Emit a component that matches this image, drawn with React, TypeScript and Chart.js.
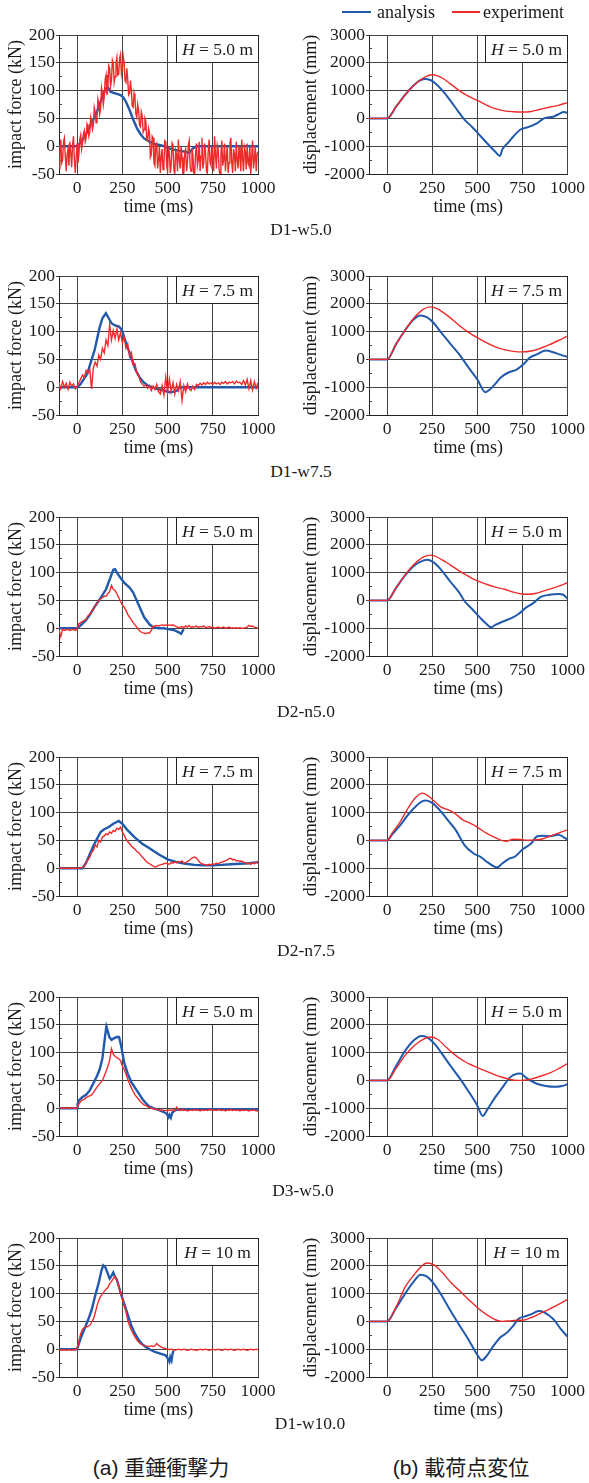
import React, { useEffect, useRef } from 'react';
import { Chart, registerables } from 'chart.js';

Chart.register(...registerables);

const SERIF = '"Liberation Serif", "Times New Roman", Times, serif';
const SANS = '"Liberation Sans", Arial, "Noto Sans CJK JP", sans-serif';
const BLUE = '#2159ad';
const RED = '#ee2b2b';
const GRID = '#444444';
const INK = '#1a1a1a';

// ---- axis ticks ----
const timeTicks = [0, 250, 500, 750, 1000];
const forceTicks = [-50, 0, 50, 100, 150, 200];
const dispTicks = [-2000, -1000, 0, 1000, 2000, 3000];
const forceMinor = [-25, 25, 75, 125, 175];
const dispMinor = [-1500, -500, 500, 1500, 2500];

// ---- sampled time grids (ms) for the measured force records ----
const t10 = [
  -100, -90, -80, -70, -60, -50, -40, -30, -20, -10, 0,
  10, 20, 30, 40, 50, 60, 70, 80, 90, 100,
  110, 120, 130, 140, 150, 160, 170, 180, 190, 200,
  210, 220, 230, 240, 250, 260, 270, 280, 290, 300,
  310, 320, 330, 340, 350, 360, 370, 380, 390, 400,
  410, 420, 430, 440, 450, 460, 470, 480, 490, 500,
  510, 520, 530, 540, 550, 560, 570, 580, 590, 600,
  610, 620, 630, 640, 650, 660, 670, 680, 690, 700,
  710, 720, 730, 740, 750, 760, 770, 780, 790, 800,
  810, 820, 830, 840, 850, 860, 870, 880, 890, 900,
  910, 920, 930, 940, 950, 960, 970, 980, 990, 1000,
];
const t5 = [
  -100, -95, -90, -85, -80, -75, -70, -65, -60, -55, -50, -45, -40, -35, -30, -25, -20, -15, -10, -5, 0,
  5, 10, 15, 20, 25, 30, 35, 40, 45, 50, 55, 60, 65, 70, 75, 80, 85, 90, 95, 100,
  105, 110, 115, 120, 125, 130, 135, 140, 145, 150, 155, 160, 165, 170, 175, 180, 185, 190, 195, 200,
  205, 210, 215, 220, 225, 230, 235, 240, 245, 250, 255, 260, 265, 270, 275, 280, 285, 290, 295, 300,
  305, 310, 315, 320, 325, 330, 335, 340, 345, 350, 355, 360, 365, 370, 375, 380, 385, 390, 395, 400,
  405, 410, 415, 420, 425, 430, 435, 440, 445, 450, 455, 460, 465, 470, 475, 480, 485, 490, 495, 500,
  505, 510, 515, 520, 525, 530, 535, 540, 545, 550, 555, 560, 565, 570, 575, 580, 585, 590, 595, 600,
  605, 610, 615, 620, 625, 630, 635, 640, 645, 650, 655, 660, 665, 670, 675, 680, 685, 690, 695, 700,
  705, 710, 715, 720, 725, 730, 735, 740, 745, 750, 755, 760, 765, 770, 775, 780, 785, 790, 795, 800,
  805, 810, 815, 820, 825, 830, 835, 840, 845, 850, 855, 860, 865, 870, 875, 880, 885, 890, 895, 900,
  905, 910, 915, 920, 925, 930, 935, 940, 945, 950, 955, 960, 965, 970, 975, 980, 985, 990, 995, 1000,
];

// ================= D1-w5.0 =================
const d1w50ForceAnalysis: [number, number][] = [
  [-100, 0], [0, 0], [10, 3], [30, 12], [50, 22], [70, 35], [90, 48], [110, 62], [130, 80], [150, 97],
  [165, 107], [175, 104], [185, 98], [200, 96], [220, 94], [240, 92], [255, 88], [270, 80], [290, 65],
  [310, 48], [330, 33], [350, 22], [370, 14], [400, 8], [430, 4], [460, 2], [480, 0], [500, -3],
  [530, -6], [560, -8], [600, -10], [620, -12], [640, -4], [660, 0], [1000, 0],
];
// sampled on t5
const d1w50ForceExperiment = [
  -40, -10, 12, -30, -25, 8, 15, -20, -45, -15, -5, -35, 8, -12, -38, 2, 18, -25, -48, -20, 5,
  -30, -15, 12, 20, -5, 5, 22, 28, 8, 15, 40, 35, 18, 25, 52, 45, 30, 38, 70, 62,
  42, 50, 85, 78, 58, 68, 105, 95, 75, 88, 120, 128, 92, 105, 145, 140, 108, 118, 155, 150,
  115, 125, 150, 160, 128, 130, 158, 165, 130, 140, 162, 150, 118, 115, 140, 120, 92, 95, 118, 100,
  72, 70, 95, 85, 58, 52, 75, 65, 38, 35, 62, 55, 25, 30, 50, 45, 12, 10, 32, 25,
  -20, -15, 18, 15, -30, -35, 2, 5, -40, -25, 0, -48, -20, -5, -42, -30, 10, 8, -35, -45,
  -5, -10, -48, -35, 5, 0, -42, -50, -8, -15, -45, 12, -25, -40, 0, -20, -50, -48, -10, -5,
  -45, -30, 2, 10, -38, -45, -5, -15, -48, -50, -12, 5, -35, -25, 8, -45, -18, 15, -40, -30,
  5, -10, -45, -48, -8, 12, -30, -35, 0, -20, -45, 18, -15, -40, 2, -5, -42, -50, -15, 10,
  -35, -25, 5, -45, -20, 0, -48, -30, 5, 15, -30, -48, -5, -15, -45, 8, -25, -40, 0, -20,
  -45, 12, -22, -45, -2, -10, -42, 5, -30, -35, 0, -50, -20, 10, -40, -25, 2, -45, -15, -10,
];
const d1w50DispAnalysis: [number, number][] = [
  [-100, 0], [0, 0], [50, 420], [100, 850], [150, 1200], [180, 1360], [210, 1420], [240, 1380],
  [270, 1250], [300, 1050], [350, 650], [400, 200], [430, -50], [470, -300], [520, -650], [570, -1000],
  [600, -1200], [625, -1350], [640, -1100], [670, -880], [700, -650], [740, -400], [780, -320],
  [830, -180], [870, 0], [900, 40], [920, 60], [950, 150], [980, 230], [1000, 200],
];
const d1w50DispExperiment: [number, number][] = [
  [-100, 0], [0, 0], [50, 420], [100, 850], [150, 1200], [200, 1450], [250, 1570], [300, 1480],
  [350, 1250], [400, 1000], [450, 800], [500, 650], [550, 480], [600, 350], [650, 270], [700, 240],
  [750, 230], [800, 250], [850, 330], [900, 400], [950, 470], [1000, 570],
];

// ================= D1-w7.5 =================
const d1w75ForceAnalysis: [number, number][] = [
  [-100, 0], [0, 0], [20, 6], [56, 24], [97, 67], [125, 108], [140, 124], [159, 133], [175, 124],
  [190, 115], [210, 111], [232, 109], [247, 103], [265, 85], [284, 67], [305, 48], [325, 30],
  [345, 18], [367, 9], [390, 3], [408, 1], [440, -3], [470, -5], [512, -9], [535, -8], [553, -6],
  [565, 0], [1000, 0],
];
const d1w75ForceExperiment = [
  8, -3, 10, 0, 7, -4, 9, 2, 6, -3, 2,
  8, 15, 22, 18, 30, 25, 32, -3, 35, 45,
  38, 58, 50, 70, 62, 85, 75, 112, 85, 102,
  88, 105, 85, 98, 80, 90, 70, 78, 55, 62,
  40, 42, 25, 22, 10, 6, 2, 4, -2, 3,
  -6, 2, -4, 5, -8, -12, 3, -14, 18, -10,
  15, -8, 8, -12, 5, -6, 10, -24, 3, -8,
  6, -3, -6, 2, -4, 5, 3, 7, 4, 8,
  5, 9, 6, 8, 5, 9, 6, 8, 5, 9,
  7, 10, 6, 9, 8, 10, 6, 11, 8, 9,
  5, 12, 4, 14, -3, 12, -5, 10, -2, 8,
];
const d1w75DispAnalysis: [number, number][] = [
  [-100, 0], [0, 0], [50, 550], [100, 1050], [150, 1450], [185, 1580], [220, 1520], [260, 1300],
  [300, 960], [350, 570], [400, 180], [450, -280], [500, -720], [545, -1180], [570, -1080],
  [600, -880], [630, -650], [670, -480], [720, -360], [760, -150], [790, 60], [830, 180], [880, 320],
  [920, 260], [960, 170], [1000, 90],
];
const d1w75DispExperiment: [number, number][] = [
  [-100, 0], [0, 0], [50, 550], [100, 1050], [150, 1500], [200, 1800], [240, 1890], [280, 1820],
  [330, 1600], [400, 1220], [450, 980], [500, 780], [550, 600], [600, 450], [650, 350], [700, 290],
  [750, 270], [800, 300], [850, 400], [900, 530], [950, 680], [1000, 840],
];

// ================= D2-n5.0 =================
const d2n50ForceAnalysis: [number, number][] = [
  [-100, 0], [0, 0], [20, 5], [50, 15], [70, 24], [100, 40], [125, 52], [160, 70], [185, 92],
  [200, 105], [210, 106], [220, 100], [235, 93], [260, 82], [290, 73], [310, 64], [340, 42],
  [370, 20], [400, 7], [420, 2], [450, 0], [480, 0], [510, -2], [540, -4], [565, -8], [575, -10],
  [585, -4], [590, -2],
];
const d2n50ForceExperiment = [
  -3, -15, -2, -4, -3, -2, -4, -3, -2, -4, -2,
  8, 10, 12, 14, 16, 22, 25, 30, 35, 40,
  45, 50, 53, 55, 58, 57, 62, 66, 77, 70,
  68, 62, 55, 48, 42, 38, 32, 25, 20, 15,
  10, 6, 2, -3, -6, -8, -9, -10, -8, -9,
  -4, 3, 4, 5, 4, 5, 6, 5, 6, 5,
  6, 5, 6, 4, 3, 1, 2, 3, 1, 4,
  2, 5, 1, 3, 2, 4, 1, 3, 2, 4,
  1, 2, 3, 1, 2, 0, 1, 2, 0, 1,
  2, 0, 1, 2, 0, 1, 0, 1, 0, 1,
  0, 0, 1, 2, 5, 3, 4, 2, 1, 0,
];
const d2n50DispAnalysis: [number, number][] = [
  [-100, 0], [0, 0], [50, 450], [100, 900], [150, 1250], [200, 1430], [225, 1460], [260, 1360],
  [300, 1100], [350, 680], [400, 280], [430, -30], [470, -300], [520, -650], [560, -900],
  [575, -970], [600, -880], [650, -740], [700, -600], [730, -480], [770, -260], [810, -100],
  [850, 120], [900, 200], [950, 230], [975, 210], [1000, 60],
];
const d2n50DispExperiment: [number, number][] = [
  [-100, 0], [0, 0], [50, 450], [100, 920], [150, 1300], [200, 1560], [245, 1630], [300, 1480],
  [350, 1280], [400, 1060], [450, 870], [500, 700], [550, 580], [600, 480], [650, 400], [700, 300],
  [750, 230], [780, 220], [820, 250], [870, 340], [920, 440], [960, 530], [1000, 640],
];

// ================= D2-n7.5 =================
const d2n75ForceAnalysis: [number, number][] = [
  [-100, 0], [30, 0], [50, 10], [70, 25], [90, 40], [110, 53], [130, 65], [150, 70], [175, 74],
  [200, 80], [230, 85], [250, 80], [280, 68], [320, 55], [360, 44], [400, 36], [450, 25], [500, 16],
  [550, 11], [600, 8], [650, 6], [700, 5], [750, 5], [800, 6], [850, 7], [900, 8], [950, 9],
  [1000, 11],
];
const d2n75ForceExperiment = [
  0, 0, 0, 0, 0, 0, 0, 0, 0, 0, 0,
  0, 1, 1, 4, 10, 15, 20, 28, 32, 42,
  38, 50, 47, 56, 58, 62, 60, 65, 63, 68,
  66, 72, 70, 74, 65, 60, 52, 48, 44, 40,
  37, 34, 30, 28, 24, 20, 17, 13, 10, 8,
  6, 4, 2, 3, 5, 6, 7, 8, 9, 8,
  7, 10, 9, 11, 10, 12, 11, 13, 9, 10,
  12, 14, 17, 19, 20, 18, 14, 10, 8, 7,
  6, 5, 7, 6, 8, 7, 9, 8, 10, 11,
  12, 13, 15, 17, 18, 15, 16, 13, 14, 12,
  13, 11, 10, 8, 9, 7, 10, 8, 11, 9,
];
const d2n75DispAnalysis: [number, number][] = [
  [-100, 0], [0, 0], [30, 230], [70, 520], [120, 950], [160, 1230], [200, 1420], [215, 1435],
  [250, 1350], [300, 1030], [340, 700], [380, 380], [430, -180], [480, -470], [520, -600],
  [560, -800], [610, -970], [640, -820], [680, -650], [710, -580], [750, -330], [800, -100],
  [830, 140], [860, 170], [900, 150], [950, 200], [975, 130], [1000, 25],
];
const d2n75DispExperiment: [number, number][] = [
  [-100, 0], [0, 0], [30, 280], [70, 640], [120, 1200], [160, 1550], [195, 1700], [220, 1640],
  [250, 1480], [300, 1200], [340, 1100], [370, 1000], [420, 740], [460, 620], [500, 480],
  [550, 260], [600, 100], [640, -10], [660, -30], [700, 40], [740, 30], [780, 10], [820, 20],
  [860, 50], [900, 150], [950, 260], [1000, 380],
];

// ================= D3-w5.0 =================
const d3w50ForceAnalysis: [number, number][] = [
  [-100, 0], [0, 0], [3, 8], [10, 14], [30, 20], [50, 24], [70, 32], [90, 45], [110, 58], [125, 70],
  [140, 90], [155, 130], [162, 147], [170, 138], [178, 128], [190, 123], [205, 126], [220, 128],
  [232, 128], [245, 110], [260, 82], [280, 62], [300, 47], [320, 37], [340, 27], [360, 17],
  [380, 9], [400, 3], [420, 0], [450, -3], [480, -7], [495, -10], [505, -16], [510, -12],
  [518, -17], [525, -9], [535, -5], [545, -3], [600, -2], [700, -2], [800, -2], [900, -2],
  [1000, -2],
];
const d3w50ForceExperiment = [
  0, 1, 0, 0, 1, 0, 0, 1, 0, 0, 0,
  8, 12, 15, 16, 19, 21, 22, 24, 28, 33,
  38, 42, 46, 50, 58, 66, 75, 86, 107, 97,
  93, 91, 89, 86, 76, 70, 62, 52, 44, 37,
  30, 24, 20, 16, 12, 9, 6, 5, 3, 1,
  0, -1, -2, -2, -3, -4, -3, -4, -4, -5,
  -3, -4, -3, -5, 2, -3, -4, -2, -4, -3,
  -5, -4, -3, -4, -2, -4, -3, -5, -3, -4,
  -3, -4, -2, -3, -4, -3, -4, -2, -3, -4,
  -3, -5, -3, -4, -2, -4, -3, -4, -3, -5,
  -3, -4, -3, -4, -5, -3, -4, -3, -5, -4,
];
const d3w50DispAnalysis: [number, number][] = [
  [-100, 0], [0, 0], [50, 520], [100, 1060], [150, 1450], [190, 1600], [220, 1560], [260, 1340],
  [300, 1000], [350, 540], [400, 100], [450, -380], [500, -900], [530, -1280], [560, -1000],
  [600, -600], [640, -250], [680, 100], [720, 240], [740, 250], [770, 100], [800, -30],
  [830, -120], [880, -200], [930, -230], [970, -200], [1000, -140],
];
const d3w50DispExperiment: [number, number][] = [
  [-100, 0], [0, 0], [50, 430], [100, 900], [150, 1250], [200, 1480], [240, 1560], [280, 1480],
  [330, 1180], [380, 900], [430, 680], [480, 520], [530, 380], [580, 250], [630, 130], [680, 40],
  [720, 0], [760, 10], [800, 50], [850, 150], [900, 260], [950, 420], [1000, 600],
];

// ================= D1-w10.0 =================
const d1w100ForceAnalysis: [number, number][] = [
  [-100, 0], [0, 0], [10, 10], [20, 20], [40, 36], [60, 52], [80, 70], [100, 96], [120, 120],
  [135, 142], [145, 151], [155, 148], [165, 140], [180, 127], [190, 132], [200, 138], [210, 130],
  [220, 125], [240, 102], [260, 82], [280, 62], [300, 42], [320, 28], [340, 17], [360, 9],
  [380, 4], [400, 0], [430, -5], [460, -8], [490, -11], [505, -18], [510, -22], [515, -14],
  [522, -20], [528, -8], [532, -3],
];
const d1w100ForceExperiment = [
  -1, -2, -1, -1, -2, -1, -1, -2, -1, -1, 0,
  15, 28, 36, 39, 40, 41, 43, 48, 54, 65,
  78, 88, 95, 99, 104, 108, 111, 118, 122, 127,
  131, 124, 114, 102, 90, 78, 68, 52, 42, 34,
  28, 22, 17, 13, 10, 8, 6, 6, 5, 5,
  6, 5, 6, 10, 7, 5, 3, 2, 1, 0,
  -1, 0, -1, -2, -1, 0, -1, -1, 0, -1,
  -2, -1, 0, -1, -1, -2, -1, 0, -1, -1,
  0, -1, -2, -1, 0, -1, -1, 0, -1, -2,
  -1, 0, -1, -1, 0, -1, -2, -1, 0, -1,
  -1, 0, -1, -2, -1, 0, -1, -1, 0, -1,
];
const d1w100DispAnalysis: [number, number][] = [
  [-100, 0], [0, 0], [50, 480], [100, 1000], [150, 1450], [185, 1680], [220, 1620], [260, 1350],
  [300, 960], [350, 400], [400, -130], [450, -640], [500, -1200], [525, -1400], [550, -1260],
  [590, -880], [630, -560], [660, -430], [700, -150], [730, 100], [760, 170], [800, 260],
  [840, 370], [870, 330], [900, 200], [930, 20], [960, -250], [1000, -550],
];
const d1w100DispExperiment: [number, number][] = [
  [-100, 0], [0, 0], [50, 520], [100, 1230], [150, 1680], [190, 1980], [220, 2100], [260, 2030],
  [300, 1800], [350, 1430], [400, 1110], [450, 800], [500, 500], [550, 250], [600, 60], [640, 0],
  [680, 20], [720, 40], [760, 50], [800, 140], [850, 290], [900, 440], [950, 610], [1000, 790],
];

const caseLabels = ['D1-w5.0', 'D1-w7.5', 'D2-n5.0', 'D2-n7.5', 'D3-w5.0', 'D1-w10.0'];
const dropHeights = ['5.0', '7.5', '5.0', '7.5', '5.0', '10'];

// ---- layout ----
const ROW_TOPS = [35, 276, 517, 757, 997, 1238];
const PLOT_H = 139;
const PAD_TOP = 30;
const X_AXIS_H = 44;
const CANVAS_H = PAD_TOP + PLOT_H + X_AXIS_H + 2;
const CAPTION_POS = [
  [301, 230], [301, 472], [306, 712], [306, 951], [303, 1191], [310, 1424],
];

type Kind = 'force' | 'disp';
interface Panel {
  kind: Kind;
  row: number;
  analysis: [number, number][];
  experiment: number[] | [number, number][];
  time?: number[];
}

const panels: Panel[] = [
  { kind: 'force', row: 0, analysis: d1w50ForceAnalysis, experiment: d1w50ForceExperiment, time: t5 },
  { kind: 'disp', row: 0, analysis: d1w50DispAnalysis, experiment: d1w50DispExperiment },
  { kind: 'force', row: 1, analysis: d1w75ForceAnalysis, experiment: d1w75ForceExperiment, time: t10 },
  { kind: 'disp', row: 1, analysis: d1w75DispAnalysis, experiment: d1w75DispExperiment },
  { kind: 'force', row: 2, analysis: d2n50ForceAnalysis, experiment: d2n50ForceExperiment, time: t10 },
  { kind: 'disp', row: 2, analysis: d2n50DispAnalysis, experiment: d2n50DispExperiment },
  { kind: 'force', row: 3, analysis: d2n75ForceAnalysis, experiment: d2n75ForceExperiment, time: t10 },
  { kind: 'disp', row: 3, analysis: d2n75DispAnalysis, experiment: d2n75DispExperiment },
  { kind: 'force', row: 4, analysis: d3w50ForceAnalysis, experiment: d3w50ForceExperiment, time: t10 },
  { kind: 'disp', row: 4, analysis: d3w50DispAnalysis, experiment: d3w50DispExperiment },
  { kind: 'force', row: 5, analysis: d1w100ForceAnalysis, experiment: d1w100ForceExperiment, time: t10 },
  { kind: 'disp', row: 5, analysis: d1w100DispAnalysis, experiment: d1w100DispExperiment },
];

function alignPx(v: number) {
  return Math.round(v - 0.5) + 0.5;
}

const hboxPlugin = {
  id: 'hbox',
  afterDatasetsDraw(chart: any, _args: any, opts: any) {
    const { ctx, chartArea, scales } = chart;
    const x0 = alignPx(scales.x.getPixelForValue(opts.x0));
    const x1 = alignPx(chartArea.right);
    const y0 = alignPx(chartArea.top);
    const y1 = alignPx(scales.y.getPixelForValue(opts.y0));
    ctx.save();
    ctx.fillStyle = '#ffffff';
    ctx.fillRect(x0, y0, x1 - x0, y1 - y0);
    ctx.strokeStyle = '#222222';
    ctx.lineWidth = 1;
    ctx.strokeRect(x0, y0, x1 - x0, y1 - y0);
    const italic = `italic 17.5px ${SERIF}`;
    const normal = `17.5px ${SERIF}`;
    const rest = ` = ${opts.value} m`;
    ctx.font = italic;
    const w1 = ctx.measureText('H').width;
    ctx.font = normal;
    const w2 = ctx.measureText(rest).width;
    const cx = (x0 + x1) / 2;
    const cy = (y0 + y1) / 2 + 1;
    const sx = cx - (w1 + w2) / 2;
    ctx.fillStyle = INK;
    ctx.textBaseline = 'middle';
    ctx.textAlign = 'left';
    ctx.font = italic;
    ctx.fillText('H', sx, cy);
    ctx.font = normal;
    ctx.fillText(rest, sx + w1, cy);
    ctx.restore();
  },
};

const minorPlugin = {
  id: 'minorTicks',
  beforeDatasetsDraw(chart: any, _args: any, opts: any) {
    const { ctx, chartArea, scales } = chart;
    ctx.save();
    ctx.strokeStyle = GRID;
    ctx.lineWidth = 1;
    ctx.beginPath();
    for (const v of opts.values as number[]) {
      const y = alignPx(scales.y.getPixelForValue(v));
      ctx.moveTo(chartArea.left, y);
      ctx.lineTo(chartArea.left + 3, y);
    }
    ctx.stroke();
    ctx.restore();
  },
};

function makeConfig(p: Panel): any {
  const isForce = p.kind === 'force';
  const yTicks = isForce ? forceTicks : dispTicks;
  const tGrid = p.time || t10;
  const expData = isForce
    ? (p.experiment as number[]).map((v, i) => ({ x: tGrid[i], y: v }))
    : (p.experiment as [number, number][]).map(([x, y]) => ({ x, y }));
  const anaData = p.analysis.map(([x, y]) => ({ x, y }));
  const tickFont = { family: SERIF, size: 17.5 };
  const titleFont = { family: SERIF, size: 18 };
  return {
    type: 'line',
    data: {
      datasets: [
        {
          label: 'experiment',
          data: expData,
          borderColor: RED,
          borderWidth: 1.4,
          pointRadius: 0,
          fill: false,
          cubicInterpolationMode: isForce ? 'default' : 'monotone',
          tension: 0,
        },
        {
          label: 'analysis',
          data: anaData,
          borderColor: BLUE,
          borderWidth: isForce ? 2.4 : 2,
          pointRadius: 0,
          fill: false,
          cubicInterpolationMode: isForce ? 'default' : 'monotone',
          tension: 0,
        },
      ],
    },
    options: {
      animation: false,
      responsive: false,
      events: [],
      layout: {
        padding: isForce
          ? { top: PAD_TOP, left: 5, right: 32, bottom: 2 }
          : { top: PAD_TOP, left: 10, right: 21, bottom: 2 },
      },
      plugins: {
        legend: { display: false },
        tooltip: { enabled: false },
        hbox: { x0: 547, y0: isForce ? 150 : 2000, value: dropHeights[p.row] },
        minorTicks: { values: isForce ? forceMinor : dispMinor },
      },
      scales: {
        x: {
          type: 'linear',
          min: -100,
          max: 1000,
          afterBuildTicks: (s: any) => {
            s.ticks = timeTicks.map((v) => ({ value: v }));
          },
          afterFit: (s: any) => {
            s.height = X_AXIS_H;
          },
          grid: { color: GRID, lineWidth: 1, drawTicks: false },
          border: { color: '#222222', width: 1 },
          ticks: {
            font: tickFont,
            color: INK,
            padding: 4,
            maxRotation: 0,
            autoSkip: false,
            callback: (v: any) => String(v),
          },
          title: { display: true, text: 'time (ms)', font: titleFont, color: INK, padding: 0 },
        },
        y: {
          type: 'linear',
          min: isForce ? -50 : -2000,
          max: isForce ? 200 : 3000,
          afterBuildTicks: (s: any) => {
            s.ticks = yTicks.map((v) => ({ value: v }));
          },
          afterFit: (s: any) => {
            s.width = isForce ? 54 : 69;
          },
          grid: { color: GRID, lineWidth: 1, drawTicks: true, tickLength: 3 },
          border: { color: '#222222', width: 1 },
          ticks: {
            font: tickFont,
            color: INK,
            padding: 1,
            autoSkip: false,
            callback: (v: any) => String(v),
          },
          title: {
            display: true,
            text: isForce ? 'impact force (kN)' : 'displacement (mm)',
            font: titleFont,
            color: INK,
            padding: 0,
          },
        },
      },
    },
    plugins: [minorPlugin, hboxPlugin],
  };
}

function ChartPanel({ panel }: { panel: Panel }) {
  const ref = useRef<HTMLCanvasElement>(null);
  useEffect(() => {
    if (!ref.current) return;
    const chart = new Chart(ref.current, makeConfig(panel));
    return () => chart.destroy();
  }, [panel]);
  const isForce = panel.kind === 'force';
  return (
    <canvas
      ref={ref}
      width={isForce ? 290 : 299}
      height={CANVAS_H}
      style={{ position: 'absolute', left: isForce ? 0 : 290, top: ROW_TOPS[panel.row] - PAD_TOP }}
    />
  );
}

function Centered({ x, y, font, children }: { x: number; y: number; font: string; children: React.ReactNode }) {
  return (
    <div
      style={{
        position: 'absolute',
        left: x,
        top: y,
        transform: 'translate(-50%, -50%)',
        whiteSpace: 'nowrap',
        font,
        lineHeight: 1,
        color: INK,
      }}
    >
      {children}
    </div>
  );
}

export default function App() {
  const legendFont = `18px ${SERIF}`;
  return (
    <div
      style={{
        position: 'absolute',
        left: 0,
        top: 0,
        width: 589,
        height: 1483,
        background: '#ffffff',
        overflow: 'hidden',
      }}
    >
      {panels.map((p, i) => (
        <ChartPanel key={i} panel={p} />
      ))}
      {caseLabels.map((c, i) => (
        <Centered key={c} x={CAPTION_POS[i][0]} y={CAPTION_POS[i][1]} font={`17.5px ${SERIF}`}>
          {c}
        </Centered>
      ))}
      {/* legend */}
      <div style={{ position: 'absolute', left: 342, top: 11, width: 29, height: 2, background: BLUE }} />
      <div style={{ position: 'absolute', left: 377, top: 12, transform: 'translateY(-50%)', font: legendFont, lineHeight: 1, color: INK, whiteSpace: 'nowrap' }}>
        analysis
      </div>
      <div style={{ position: 'absolute', left: 452, top: 11, width: 28, height: 1.5, background: RED }} />
      <div style={{ position: 'absolute', left: 483, top: 12, transform: 'translateY(-50%)', font: legendFont, lineHeight: 1, color: INK, whiteSpace: 'nowrap' }}>
        experiment
      </div>
      {/* sub-figure labels */}
      <Centered x={161} y={1467} font={`21px ${SANS}`}>
        (a) 重錘衝撃力
      </Centered>
      <Centered x={461} y={1467} font={`21px ${SANS}`}>
        (b) 載荷点変位
      </Centered>
    </div>
  );
}
